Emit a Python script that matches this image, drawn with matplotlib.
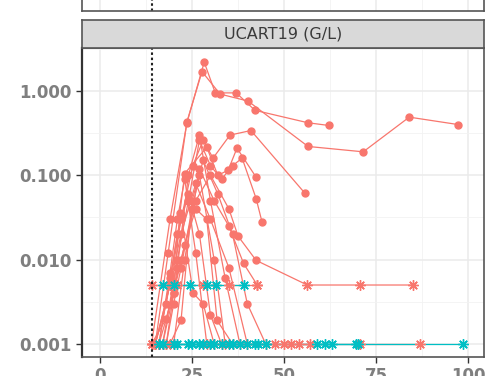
import matplotlib
matplotlib.use("Agg")
import matplotlib.pyplot as plt
import numpy as np

plt.rcParams['font.family'] = "DejaVu Sans"

# Days after infusion / UCART19 counts (G/L), one list per patient
red_days = [
    [14, 19, 23.6, 28.3, 31.3, 37, 42.1, 56.5, 62.2],
    [15, 18.5, 23.6, 27.7, 32.6, 40.2, 56.5, 71.5, 84, 97.3],
    [15, 19, 22, 25.2, 28, 30.7, 35.3, 41, 55.7],
    [16, 20, 21.7, 23, 29, 32, 34.8, 37.2, 42.4],
    [17, 21, 24, 27, 30, 33, 36, 38.6, 42.4, 44],
    [14, 18, 22, 26, 30, 35, 37.5, 42.4, 56.3, 70.7, 85],
    [15, 18, 21, 24, 27, 30, 33],
    [16, 19, 22, 25.3, 28, 31],
    [17, 20, 23, 26, 29, 31.8, 36],
    [18, 21, 24, 27, 30, 34, 38],
    [19, 22, 25, 28, 32, 36, 40, 45],
    [15, 19, 22, 26, 30, 35, 40],
    [20, 23, 27, 31, 35, 39, 42.7],
    [16, 19, 21, 23, 26, 29],
    [18, 20, 22, 25, 27, 31, 34],
    [14, 16, 30, 47.5, 50, 52, 54, 57, 70.7, 87],
    [14, 21, 28, 35, 42.7],
]
red_vals = [
    [0.001, 0.03, 0.42, 2.2, 0.95, 0.95, 0.59, 0.42, 0.39],
    [0.001, 0.012, 0.43, 1.7, 0.92, 0.76, 0.22, 0.19, 0.49, 0.40],
    [0.001, 0.005, 0.03, 0.13, 0.26, 0.16, 0.30, 0.34, 0.061],
    [0.001, 0.004, 0.036, 0.105, 0.215, 0.10, 0.115, 0.21, 0.095],
    [0.001, 0.01, 0.05, 0.26, 0.13, 0.09, 0.13, 0.16, 0.053, 0.028],
    [0.001, 0.002, 0.01, 0.05, 0.1, 0.04, 0.019, 0.0098, 0.005, 0.005, 0.005],
    [0.001, 0.003, 0.02, 0.06, 0.02, 0.0022, 0.001],
    [0.001, 0.006, 0.035, 0.004, 0.003, 0.001],
    [0.001, 0.004, 0.015, 0.04, 0.03, 0.0019, 0.001],
    [0.001, 0.008, 0.1, 0.3, 0.05, 0.006, 0.001],
    [0.001, 0.0019, 0.05, 0.15, 0.06, 0.02, 0.003, 0.001],
    [0.001, 0.005, 0.02, 0.08, 0.03, 0.008, 0.001],
    [0.001, 0.01, 0.12, 0.05, 0.025, 0.009, 0.005],
    [0.001, 0.007, 0.03, 0.09, 0.012, 0.001],
    [0.001, 0.003, 0.008, 0.04, 0.1, 0.01, 0.001],
    [0.001, 0.001, 0.001, 0.001, 0.001, 0.001, 0.001, 0.001, 0.001, 0.001],
    [0.005, 0.005, 0.005, 0.005, 0.005],
]
cyan_days = [
    [17, 20, 24.5, 29, 31.5, 39],
    [17, 20, 24, 27, 31, 35, 38, 42, 45, 59, 63, 69.5, 98.6],
    [16, 21, 25, 28, 30, 33, 36, 40, 43, 61, 70],
]
cyan_vals = [
    [0.005, 0.005, 0.005, 0.005, 0.005, 0.005],
    [0.001] * 13,
    [0.001] * 11,
]
lod_vals = [0.001, 0.005]
y_ticks = [1, 0.1, 0.01, 0.001]
y_labels = ["1.000", "0.100", "0.010", "0.001"]
x_ticks = [0, 25, 50, 75, 100]
cart_day = 14

red = '#F8766D'
cyan = '#00BFC4'

fig = plt.figure(figsize=(5.01, 3.76), dpi=100)
ax = fig.add_axes([0.1637, 0.0505, 0.8023, 0.8218])


def draw(days, vals, color):
    for d, v in zip(days, vals):
        d = np.array(d)
        v = np.array(v)
        ax.plot(d, v, color=color, lw=0.9, zorder=3)
        cens = np.isin(v, lod_vals)
        ax.plot(d[~cens], v[~cens], 'o', color=color, ms=5, mec=color, zorder=4)
        ax.plot(d[cens], v[cens], ls='none', marker=(8, 2, 0), color=color, ms=7.5, mew=1.0, zorder=4)


draw(red_days, red_vals, red)
draw(cyan_days, cyan_vals, cyan)

ax.axvline(cart_day, color='#222222', lw=1.5, ls=(0, (1.2, 1.3)), zorder=5)

ax.set_yscale('log')
ax.set_xlim(-4.9, 104.3)
ax.set_ylim(10 ** -3.155, 10 ** 0.51)
ax.set_yticks(y_ticks)
ax.set_yticklabels(y_labels)
ax.yaxis.set_minor_locator(matplotlib.ticker.FixedLocator([10 ** k for k in (-2.5, -1.5, -0.5, 0.5)]))
ax.yaxis.set_minor_formatter(matplotlib.ticker.NullFormatter())
ax.set_xticks(x_ticks)
ax.set_xticks([12.5, 37.5, 62.5, 87.5], minor=True)
ax.grid(which='major', color='#EBEBEB', lw=1.1, zorder=0)
ax.grid(which='minor', color='#F2F2F2', lw=0.6, zorder=0)
ax.tick_params(which='minor', length=0)
ax.tick_params(which='major', length=4, color='#333333', labelcolor='#7F7F7F', labelsize=12, width=1)
for lab in ax.get_yticklabels() + ax.get_xticklabels():
    lab.set_fontweight('bold')
for sp in ax.spines.values():
    sp.set_color('#555555')
    sp.set_linewidth(1.2)
ax.spines['left'].set_color('#333333')
ax.spines['left'].set_linewidth(1.6)

# facet strip
strip = fig.add_axes([0.1637, 0.8723, 0.8023, 0.0745])
strip.set_facecolor('#D9D9D9')
strip.set_xticks([])
strip.set_yticks([])
for sp in strip.spines.values():
    sp.set_color('#555555')
    sp.set_linewidth(1.2)
strip.text(0.5, 0.5, 'UCART19 (G/L)', ha='center', va='center', fontsize=11.5, color='#3A3A3A')

# bottom edge of the panel above
prev = fig.add_axes([0.1637, 0.9707, 0.8023, 0.1])
prev.set_xlim(-4.9, 104.3)
prev.set_xticks(x_ticks)
prev.set_xticks([12.5, 37.5, 62.5, 87.5], minor=True)
prev.tick_params(which='both', length=0, labelbottom=False)
prev.set_yticks([])
prev.grid(which='major', axis='x', color='#EBEBEB', lw=1.1)
prev.grid(which='minor', axis='x', color='#F2F2F2', lw=0.6)
prev.axvline(cart_day, color='#222222', lw=1.5, ls=(0, (1.2, 1.3)))
for sp in prev.spines.values():
    sp.set_color('#555555')
    sp.set_linewidth(1.2)

fig.savefig('out.png', dpi=100)
